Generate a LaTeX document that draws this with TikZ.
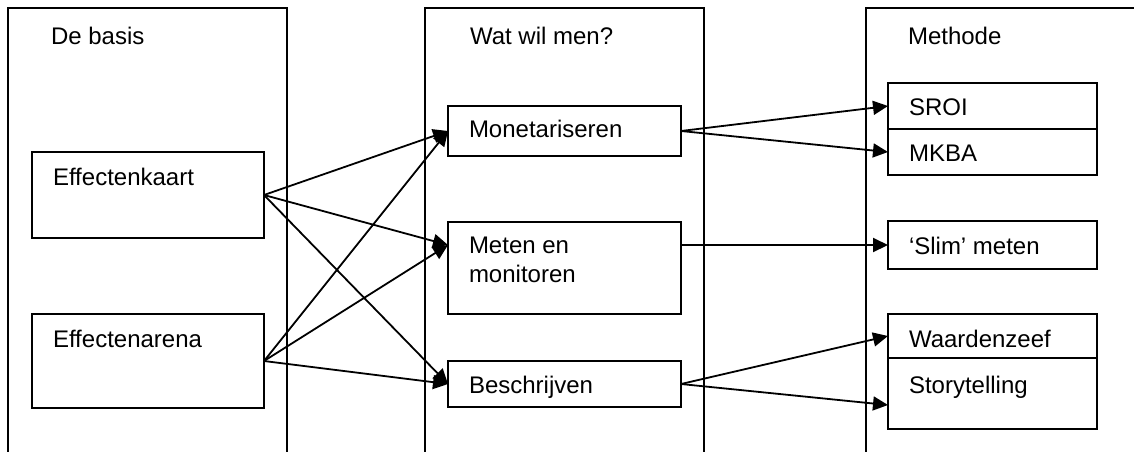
\documentclass[tikz,border=0pt]{standalone}
\usepackage{fontspec}
\setmainfont{Liberation Sans}
\usetikzlibrary{arrows.meta,calc}
\begin{document}
\begin{tikzpicture}[x=1pt,y=-1pt,line width=2pt,
  box/.style={draw,rectangle,inner sep=0pt,outer sep=0pt,anchor=north west},
  lbl/.style={anchor=base west,inner sep=0pt,font=\fontsize{24}{29}\selectfont},
  arr/.style={-{Triangle[length=15pt,width=14pt]},line width=1.8pt}]
\useasboundingbox (0,0) rectangle (1134,451);
% column frames (open at bottom)
\coordinate (c1a) at (8,460);
\coordinate (c1b) at (287,8);
\coordinate (c2a) at (425,460);
\coordinate (c2b) at (704,8);
\coordinate (c3a) at (866,460);
\coordinate (c3b) at (1145,8);
\draw (c1a) |- (c1b) -- (c1b |- c1a);
\draw (c2a) |- (c2b) -- (c2b |- c2a);
\draw (c3a) |- (c3b) -- (c3b |- c3a);
% titles
\node[lbl] (tbasis) at (50,44) {De basis};
\node[lbl] (twat) at (469,44) {Wat wil men?};
\node[lbl] (tmeth) at (907,44) {Methode};
% column 1
\node[box,minimum width=232pt,minimum height=86pt] (kaart) at (32,152) {};
\node[box,minimum width=232pt,minimum height=94pt] (arena) at (32,314) {};
\node[lbl] (lkaart) at (52,185) {Effectenkaart};
\node[lbl] (larena) at (52,347) {Effectenarena};
% column 2
\node[box,minimum width=233pt,minimum height=50pt] (mon) at (448,106) {};
\node[box,minimum width=233pt,minimum height=92pt] (meten) at (448,222) {};
\node[box,minimum width=233pt,minimum height=46pt] (besch) at (448,361) {};
\node[lbl] (lmon) at (468,137) {Monetariseren};
\node[lbl] (lmeten1) at (468,253) {Meten en};
\node[lbl] (lmeten2) at (468,282) {monitoren};
\node[lbl] (lbesch) at (468,393) {Beschrijven};
% column 3
\node[box,minimum width=209pt,minimum height=46pt] (sroi) at (888,83) {};
\node[box,minimum width=209pt,minimum height=46pt] (mkba) at (888,129) {};
\node[box,minimum width=209pt,minimum height=48pt] (slim) at (888,221) {};
\node[box,minimum width=209pt,minimum height=44pt] (waard) at (888,314) {};
\node[box,minimum width=209pt,minimum height=71pt] (story) at (888,358) {};
\node[lbl] (lsroi) at (908,115) {SROI};
\node[lbl] (lmkba) at (908,161) {MKBA};
\node[lbl] (lslim) at (908,254) {‘Slim’ meten};
\node[lbl] (lwaard) at (908,347) {Waardenzeef};
\node[lbl] (lstory) at (908,393) {Storytelling};
% connector anchor points
\coordinate (metenin) at ($(meten.north west)+(0,23)$);
\coordinate (metenout) at (slim.west -| meten.east);
\coordinate (storyin) at ($(story.north west)+(0,47)$);
% connectors
\draw[arr] (kaart.east) -- (mon.west);
\draw[arr] (kaart.east) -- (metenin);
\draw[arr] (kaart.east) -- (besch.west);
\draw[arr] (arena.east) -- (mon.west);
\draw[arr] (arena.east) -- (metenin);
\draw[arr] (arena.east) -- (besch.west);
\draw[arr] (mon.east) -- (sroi.west);
\draw[arr] (mon.east) -- (mkba.west);
\draw[arr,line width=2pt] (metenout) -- (slim.west);
\draw[arr] (besch.east) -- (waard.west);
\draw[arr] (besch.east) -- (storyin);
\end{tikzpicture}
\end{document}
